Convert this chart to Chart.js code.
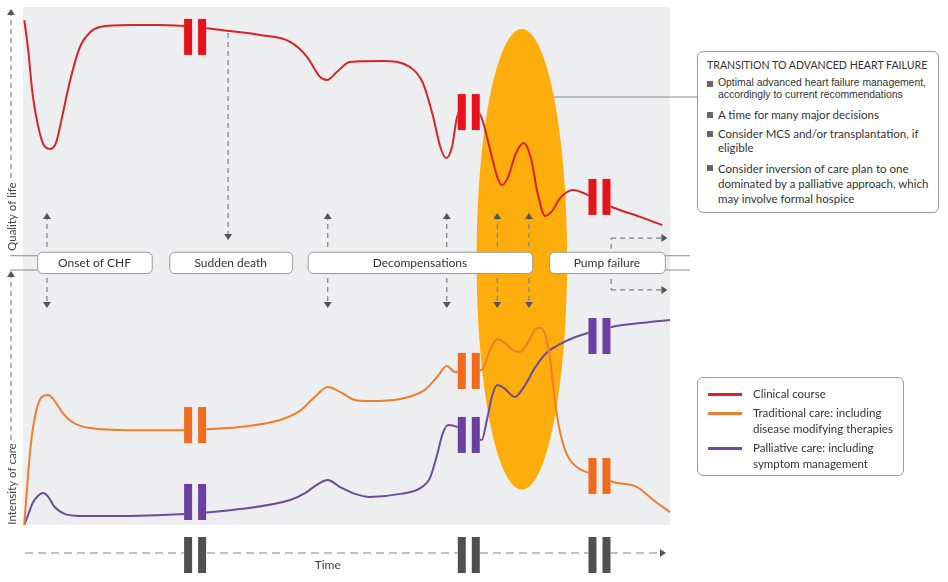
<!DOCTYPE html>
<html>
<head>
<meta charset="utf-8">
<script src="https://cdn.jsdelivr.net/npm/chart.js@4.4.1/dist/chart.umd.min.js"></script>
<style>
  body { margin: 0; background: #fff; font-family: Lato, "Noto Sans", sans-serif; color: #333; }
  #wrap { position: relative; width: 948px; height: 582px; }
  #wrap canvas { position: absolute; left: 0; top: 0; }
  .box { position: absolute; box-sizing: border-box; background: #fff; border: 1px solid #9c9c9c; border-radius: 6px; }
  #callout { left: 697px; top: 51px; width: 242px; height: 162px; padding: 6px 4px 0 9px; font-size: 11.5px; white-space: nowrap; }
  #callout .ttl { line-height: 14px; font-size: 10.6px; }
  #callout ul { list-style: none; margin: 0; padding: 0; }
  #callout li { position: relative; padding-left: 11px; line-height: 14.5px; margin-top: 4.5px; }
  #callout li.first { font-family: "Liberation Sans", Arial, sans-serif; font-size: 10.4px; line-height: 12px; margin-top: 5px; }
  #callout li.second { margin-top: 6.75px; }
  #callout li.last { margin-top: 4.75px; line-height: 15px; }
  #callout li::before { content: ""; position: absolute; left: 0; top: 4px; width: 6px; height: 6px; background: #666; }
  #legend { left: 697px; top: 377px; width: 207px; height: 99px; padding: 8px 0 0 10px; font-size: 11.5px; }
  #legend .row { position: relative; padding-left: 45px; line-height: 16.5px; margin-bottom: 2px; }
  #legend .sw { position: absolute; left: 0; top: 7px; width: 34px; height: 3px; }
</style>
</head>
<body>
<div id="wrap">
  <canvas id="chLife" width="948" height="582"></canvas>
  <div id="callout" class="box">
    <div class="ttl">TRANSITION TO ADVANCED HEART FAILURE</div>
    <ul>
      <li class="first">Optimal advanced heart failure management,<br>accordingly to current recommendations</li>
      <li class="second">A time for many major decisions</li>
      <li>Consider MCS and/or transplantation, if<br>eligible</li>
      <li class="last">Consider inversion of care plan to one<br>dominated by a palliative approach, which<br>may involve formal hospice</li>
    </ul>
  </div>
  <div id="legend" class="box"></div>
</div>
<script>
// time runs 0..100 left to right; levels run 0..100 inside each panel
var clinicalTime = [0.2,0.8,1.5,2.3,3.2,4.2,5.1,6.0,7.3,8.8,10.4,11.9,16.5,21.2,26.6,32.0,36.6,41.3,43.9,45.9,47.0,48.5,50.5,55.6,59.8,61.8,63.4,64.5,65.4,66.3,67.1,68.9,70.9,72.2,73.3,74.0,74.9,76.2,77.4,78.5,79.6,80.7,81.8,83.0,85.0,87.3,91.0,95.4,98.8];
var clinicalLevel = [94.6,82.2,63.5,51.0,42.7,41.1,43.6,53.9,69.7,83.4,89.6,91.7,92.5,92.5,91.7,90.0,88.4,85.5,79.3,71.0,69.7,73.0,77.2,77.6,75.1,68.5,54.4,41.9,37.3,41.9,54.4,59.8,53.9,40.7,29.5,26.1,29.0,39.4,43.6,37.3,22.0,13.3,15.4,20.7,24.1,22.0,17.0,12.9,9.5];

var traditionalTime = [0.2,0.6,1.2,2.0,2.9,3.9,4.8,6.0,7.6,10.4,16.5,24.7,28.9,33.5,39.7,42.8,45.1,47.1,49.0,51.3,53.6,58.3,62.1,64.0,65.5,66.8,68.9,70.9,72.2,73.3,74.5,75.9,76.8,78.1,79.1,79.9,80.7,81.5,82.2,83.0,84.1,85.8,89.2,91.2,94.9,97.4,100];
var traditionalLevel = [0,13.8,31.6,44.7,50.6,51.4,49.4,44.7,40.7,38.3,37.5,37.5,37.9,38.7,41.5,45.1,50.6,54.5,52.6,49.4,49.0,49.8,53.4,58.5,62.8,60.5,60.9,61.3,69.2,73.5,71.9,68.8,68.4,72.3,77.1,77.9,75.5,65.2,49.4,36.8,27.7,22.5,19.4,17.0,15.0,9.9,5.1];

var palliativeTime = [0.2,0.8,1.5,2.3,3.1,3.9,4.9,6.5,8.8,16.5,25.0,33.5,41.3,43.6,45.6,47.1,49.0,51.3,53.6,58.3,61.4,62.9,64.0,64.8,65.7,67.2,70.9,71.7,72.5,73.3,74.5,76.0,77.6,79.1,80.9,83.0,85.0,87.3,91.0,95.4,100];
var palliativeLevel = [0,4.0,8.7,11.5,12.6,11.1,7.1,4.3,3.6,3.6,4.3,6.3,9.9,12.6,16.2,17.8,15.0,12.3,11.1,12.3,14.6,18.6,27.7,35.6,39.5,38.7,33.6,41.5,51.0,55.3,53.8,50.6,55.3,62.1,68.0,71.5,73.9,75.9,78.3,79.8,81.0];

// the double-bar "time passes" marks, and the level each one sits at
var breakTimes = [26.6, 68.9, 89.1];
var clinicalBreaks = [87.6, 56.4, 21.2];
var traditionalBreaks = [39.5, 60.9, 19.4];
var palliativeBreaks = [9.1, 35.6, 74.7];

var eventLabels = ['Onset of CHF', 'Sudden death', 'Decompensations', 'Pump failure'];
var eventFrom = [2.2, 22.6, 44.0, 81.3];
var eventTo = [19.9, 41.6, 78.7, 99.2];
var eventArrows = [3.7, 47.1, 65.5, 73.3, 78.2];
var suddenDeathTime = 31.7;
var pumpFailureTime = 90.9;

var seriesNames = ['Clinical course', 'Traditional care: including\ndisease modifying therapies', 'Palliative care: including\nsymptom management'];
var lineColors = ['#dc2229', '#ef7d2e', '#6c4c9e'];
var breakColors = ['#e8121b', '#f26a1c', '#6a40a0'];

var transition = { mid: 77.1, halfWidth: 7.0, top: 196, bottom: 14 };

// share of the plot height each panel takes (quality of life on top, care below)
var qolShare = 241 / 518, careShare = 253 / 518;

function pts(t, v) {
  return t.map(function (x, i) { return { x: x, y: v[i] }; });
}

function arrow(ctx, x1, y1, x2, y2, dash) {
  var ang = Math.atan2(y2 - y1, x2 - x1);
  var hx = x2 - Math.cos(ang) * 6, hy = y2 - Math.sin(ang) * 6;
  ctx.save();
  ctx.strokeStyle = '#808080';
  ctx.lineWidth = 1.2;
  ctx.setLineDash(dash || [5, 4]);
  ctx.beginPath(); ctx.moveTo(x1, y1); ctx.lineTo(hx, hy); ctx.stroke();
  ctx.setLineDash([]);
  ctx.fillStyle = '#555';
  ctx.beginPath();
  ctx.moveTo(x2, y2);
  ctx.lineTo(hx + Math.sin(ang) * 4, hy - Math.cos(ang) * 4);
  ctx.lineTo(hx - Math.sin(ang) * 4, hy + Math.cos(ang) * 4);
  ctx.closePath(); ctx.fill();
  ctx.restore();
}

function dashLine(ctx, x1, y1, x2, y2) {
  ctx.save();
  ctx.strokeStyle = '#808080'; ctx.lineWidth = 1.2; ctx.setLineDash([5, 4]);
  ctx.beginPath(); ctx.moveTo(x1, y1); ctx.lineTo(x2, y2); ctx.stroke();
  ctx.restore();
}

function drawBreak(ctx, cx, cy, color, bg) {
  ctx.fillStyle = bg;
  ctx.fillRect(cx - 11, cy - 18, 22, 36);
  ctx.fillStyle = color;
  ctx.fillRect(cx - 11, cy - 18, 8, 36);
  ctx.fillRect(cx + 3, cy - 18, 8, 36);
}

var decor = {
  id: 'decor',
  beforeDraw: function (chart) {
    var ctx = chart.ctx, a = chart.chartArea;
    ctx.save();
    ctx.fillStyle = '#edeef0';
    ctx.fillRect(a.left, a.top, a.right - a.left, a.bottom - a.top);
    ctx.restore();
  },
  beforeDatasetsDraw: function (chart) {
    var ctx = chart.ctx, x = chart.scales.x, yc = chart.scales.yC, a = chart.chartArea;
    var cx = x.getPixelForValue(transition.mid);
    var rx = x.getPixelForValue(transition.mid + transition.halfWidth) - cx;
    var top = yc.getPixelForValue(transition.top), bot = yc.getPixelForValue(transition.bottom);
    var cy = (top + bot) / 2, ry = (bot - top) / 2;
    ctx.save();
    ctx.fillStyle = '#fdae0c';
    ctx.beginPath(); ctx.ellipse(cx, cy, rx, ry, 0, 0, Math.PI * 2); ctx.fill();
    // connector to the callout box
    var ly = a.top + 90;
    var ex = cx + rx * Math.sqrt(1 - Math.pow((ly - cy) / ry, 2));
    ctx.strokeStyle = '#8a8a8a'; ctx.lineWidth = 1.2;
    ctx.beginPath(); ctx.moveTo(ex, ly); ctx.lineTo(a.right + 27, ly); ctx.stroke();
    ctx.restore();
  },
  afterDatasetsDraw: function (chart) {
    var ctx = chart.ctx, x = chart.scales.x, a = chart.chartArea;
    var sets = [[clinicalBreaks, 'yQ'], [traditionalBreaks, 'yC'], [palliativeBreaks, 'yC']];
    ctx.save();
    sets.forEach(function (s, i) {
      breakTimes.forEach(function (bt, j) {
        drawBreak(ctx, x.getPixelForValue(bt), chart.scales[s[1]].getPixelForValue(s[0][j]), breakColors[i], '#edeef0');
      });
    });
    // time axis
    var ty = a.bottom + 28;
    arrow(ctx, a.left + 2, ty, a.right - 4, ty, [8, 5]);
    breakTimes.forEach(function (bt) {
      drawBreak(ctx, x.getPixelForValue(bt), ty + 2, '#505050', '#fff');
    });
    ctx.fillStyle = '#444';
    ctx.font = '12px Lato';
    ctx.textAlign = 'center'; ctx.textBaseline = 'middle';
    ctx.fillText('Time', x.getPixelForValue(47.1), a.bottom + 40);
    ctx.restore();
  },
  afterDraw: function (chart) {
    var ctx = chart.ctx, x = chart.scales.x, yq = chart.scales.yQ, yc = chart.scales.yC, a = chart.chartArea;
    var boxTop = yc.getPixelForValue(108), boxBot = yc.getPixelForValue(99.6);
    ctx.save();
    // break lines at both ends of the event band
    ctx.strokeStyle = '#8a8a8a'; ctx.lineWidth = 1;
    [boxTop + 4, boxBot - 3].forEach(function (ly) {
      ctx.beginPath(); ctx.moveTo(a.left - 13, ly); ctx.lineTo(x.getPixelForValue(eventFrom[0]), ly); ctx.stroke();
      ctx.beginPath(); ctx.moveTo(x.getPixelForValue(eventTo[3]), ly); ctx.lineTo(a.right + 20, ly); ctx.stroke();
    });
    // event boxes
    ctx.font = '12px Lato';
    ctx.textAlign = 'center'; ctx.textBaseline = 'middle';
    eventLabels.forEach(function (lab, i) {
      var x1 = x.getPixelForValue(eventFrom[i]), x2 = x.getPixelForValue(eventTo[i]);
      ctx.beginPath(); ctx.roundRect(x1 + 0.5, boxTop + 0.5, x2 - x1, boxBot - boxTop, 5);
      ctx.fillStyle = '#fff'; ctx.fill();
      ctx.strokeStyle = '#9a9a9a'; ctx.stroke();
      ctx.fillStyle = '#333';
      ctx.fillText(lab, (x1 + x2) / 2, (boxTop + boxBot) / 2 + 1);
    });
    // event arrows
    eventArrows.forEach(function (t) {
      var px = x.getPixelForValue(t);
      arrow(ctx, px, yq.getPixelForValue(0.4), px, yq.getPixelForValue(14.5));
      arrow(ctx, px, yc.getPixelForValue(97.6), px, yc.getPixelForValue(85.8));
    });
    var sd = x.getPixelForValue(suddenDeathTime);
    arrow(ctx, sd, yq.getPixelForValue(89.2), sd, yq.getPixelForValue(3.3));
    var pf = x.getPixelForValue(pumpFailureTime), pend = x.getPixelForValue(99.6);
    var upY = yq.getPixelForValue(4.1), dnY = yc.getPixelForValue(92.9);
    dashLine(ctx, pf, boxTop - 3, pf, upY);
    arrow(ctx, pf, upY, pend, upY);
    dashLine(ctx, pf, boxBot + 6, pf, dnY);
    arrow(ctx, pf, dnY, pend, dnY);
    // panel axes on the left
    var ax = a.left - 12;
    arrow(ctx, ax, yq.getPixelForValue(29), ax, a.top + 2);
    arrow(ctx, ax, yc.getPixelForValue(33.6), ax, yc.getPixelForValue(100.4));
    ctx.fillStyle = '#444';
    ctx.font = '11.5px Lato';
    [['Quality of life', yq.getPixelForValue(13)], ['Intensity of care', yc.getPixelForValue(16.2)]].forEach(function (t) {
      ctx.save();
      ctx.translate(ax, t[1]);
      ctx.rotate(-Math.PI / 2);
      ctx.fillText(t[0], 0, 1);
      ctx.restore();
    });
    ctx.restore();
  }
};

var legend = document.getElementById('legend');
seriesNames.forEach(function (name, i) {
  var row = document.createElement('div');
  row.className = 'row';
  row.innerHTML = '<span class="sw" style="background:' + lineColors[i] + '"></span>' + name.replace('\n', '<br>');
  legend.appendChild(row);
});

function lineSet(label, t, v, color, axis) {
  return {
    label: label,
    data: pts(t, v),
    yAxisID: axis,
    borderColor: color,
    borderWidth: 2,
    pointRadius: 0,
    fill: false,
    cubicInterpolationMode: 'monotone',
    clip: false
  };
}

new Chart(document.getElementById('chLife'), {
  type: 'line',
  data: {
    datasets: [
      lineSet(seriesNames[0], clinicalTime, clinicalLevel, lineColors[0], 'yQ'),
      lineSet(seriesNames[1], traditionalTime, traditionalLevel, lineColors[1], 'yC'),
      lineSet(seriesNames[2], palliativeTime, palliativeLevel, lineColors[2], 'yC')
    ]
  },
  options: {
    responsive: false,
    animation: false,
    layout: { padding: { left: 23, right: 278, top: 7, bottom: 57 } },
    plugins: { legend: { display: false }, tooltip: { enabled: false } },
    scales: {
      x: { type: 'linear', min: 0, max: 100, display: false },
      yQ: { type: 'linear', min: 100 - 100 / qolShare, max: 100, display: false },
      yC: { type: 'linear', min: 0, max: 100 / careShare, display: false }
    }
  },
  plugins: [decor]
});
</script>
</body>
</html>
